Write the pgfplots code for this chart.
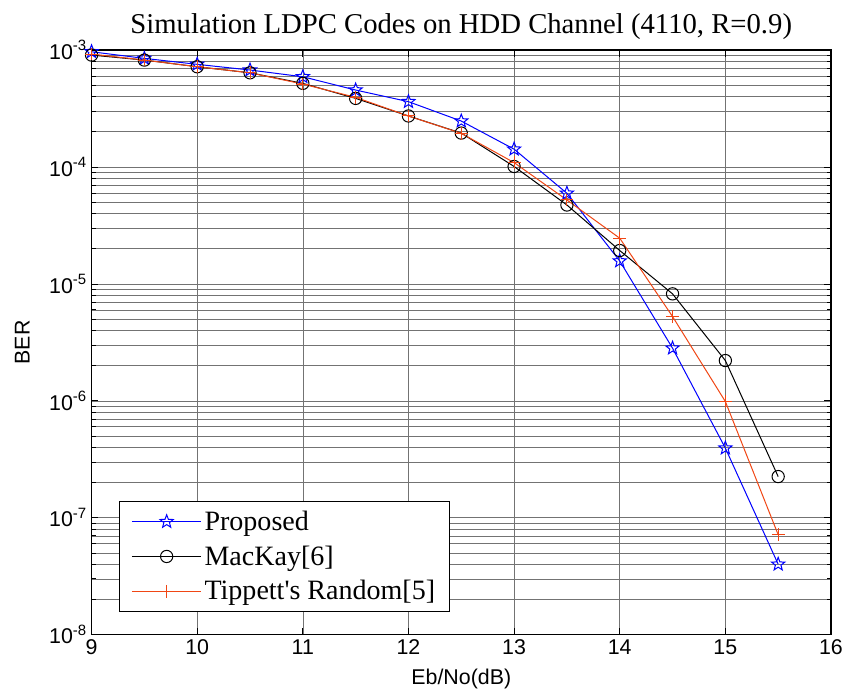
\documentclass[border=0pt]{standalone}
\usepackage{fontspec}
\setmainfont{Liberation Sans}
\newfontfamily\timesfont{Liberation Serif}
\usepackage{pgfplots}
\pgfplotsset{compat=1.18}
\definecolor{cProp}{RGB}{0,0,255}
\definecolor{cTip}{RGB}{240,70,20}

% open five-pointed star (MATLAB pentagram)
\pgfdeclareplotmark{pentagram}{%
  \pgfpathmoveto{\pgfpointpolar{90}{\pgfplotmarksize}}%
  \pgfpathlineto{\pgfpointpolar{126}{0.42\pgfplotmarksize}}%
  \pgfpathlineto{\pgfpointpolar{162}{\pgfplotmarksize}}%
  \pgfpathlineto{\pgfpointpolar{198}{0.42\pgfplotmarksize}}%
  \pgfpathlineto{\pgfpointpolar{234}{\pgfplotmarksize}}%
  \pgfpathlineto{\pgfpointpolar{270}{0.42\pgfplotmarksize}}%
  \pgfpathlineto{\pgfpointpolar{306}{\pgfplotmarksize}}%
  \pgfpathlineto{\pgfpointpolar{342}{0.42\pgfplotmarksize}}%
  \pgfpathlineto{\pgfpointpolar{18}{\pgfplotmarksize}}%
  \pgfpathlineto{\pgfpointpolar{54}{0.42\pgfplotmarksize}}%
  \pgfpathclose\pgfusepathqstroke}

\begin{document}
\begin{tikzpicture}
\begin{axis}[
    name=ax,
    scale only axis, width=554pt, height=438pt,
    xmin=9, xmax=16, ymode=log, log basis y=10, ymin=1e-8, ymax=1e-3,
    xtick={9,10,11,12,13,14,15,16},
    ytick={1e-8,1e-7,1e-6,1e-5,1e-4,1e-3},
    minor ytick={2e-8,3e-8,4e-8,5e-8,6e-8,7e-8,8e-8,9e-8,
                 2e-7,3e-7,4e-7,5e-7,6e-7,7e-7,8e-7,9e-7,
                 2e-6,3e-6,4e-6,5e-6,6e-6,7e-6,8e-6,9e-6,
                 2e-5,3e-5,4e-5,5e-5,6e-5,7e-5,8e-5,9e-5,
                 2e-4,3e-4,4e-4,5e-4,6e-4,7e-4,8e-4,9e-4},
    yticklabels={10\textsuperscript{-8},10\textsuperscript{-7},10\textsuperscript{-6},10\textsuperscript{-5},10\textsuperscript{-4},10\textsuperscript{-3}},
    /pgf/number format/assume math mode=true,
    tick align=inside,
    xtick pos=both, ytick pos=both,
    major tick length=5pt, minor tick length=3pt,
    xmajorgrids, ymajorgrids, yminorgrids,
    major grid style={black!55, line width=0.45pt},
    minor grid style={black!55, line width=0.45pt},
    axis line style={line width=1pt},
    tick style={black, line width=0.6pt},
    tick label style={font=\fontsize{16}{19}\selectfont},
    xlabel style={font=\fontsize{16}{19}\selectfont, yshift=-4pt},
    title={Simulation LDPC Codes on HDD Channel (4110, R=0.9)},
    title style={font=\timesfont\fontsize{21.5}{26}\selectfont, yshift=-2pt},
    xlabel={Eb/No(dB)},
    legend style={at={(0.037,0.039)}, anchor=south west, draw=black, line width=0.8pt,
      font=\timesfont\fontsize{21}{25}\selectfont, cells={anchor=west},
      row sep=6pt, inner xsep=9pt, inner ysep=5pt},
    legend image code/.code={%
      \draw[mark repeat=2, mark phase=2] plot coordinates {(0pt,0pt) (26pt,0pt) (52pt,0pt)};},
]
\addplot[cProp, line width=0.75pt, mark=pentagram, mark size=5.2pt, mark options={solid}] coordinates {
  (9,9.67e-4) (9.5,8.49e-4) (10,7.55e-4) (10.5,6.75e-4) (11,5.91e-4) (11.5,4.55e-4)
  (12,3.62e-4) (12.5,2.47e-4) (13,1.42e-4) (13.5,5.96e-5) (14,1.57e-5) (14.5,2.82e-6)
  (15,3.94e-7) (15.5,4.0e-8)};
\addlegendentry{Proposed}
\addplot[black, line width=0.75pt, mark=o, mark size=4.6pt] coordinates {
  (9,9.06e-4) (9.5,8.21e-4) (10,7.20e-4) (10.5,6.39e-4) (11,5.19e-4) (11.5,3.86e-4)
  (12,2.73e-4) (12.5,1.95e-4) (13,1.01e-4) (13.5,4.73e-5) (14,1.93e-5) (14.5,8.22e-6)
  (15,2.21e-6) (15.5,2.25e-7)};
\addlegendentry{MacKay[6]}
\addplot[cTip, line width=0.75pt, mark=+, mark size=4.8pt] coordinates {
  (9,9.24e-4) (9.5,8.21e-4) (10,7.20e-4) (10.5,6.39e-4) (11,5.12e-4) (11.5,3.94e-4)
  (12,2.73e-4) (12.5,1.94e-4) (13,1.09e-4) (13.5,5.22e-5) (14,2.46e-5) (14.5,5.26e-6)
  (15,9.86e-7) (15.5,7.16e-8)};
\addlegendentry{Tippett's Random[5]}
\end{axis}
\path (ax.south west) -- (ax.north west) coordinate[pos=0.5] (ml);
\node[rotate=90, font=\fontsize{16}{19}\selectfont] at ([xshift=-52pt]ml) {BER};
\pgfresetboundingbox
\path ([xshift=-68.6pt, yshift=-45.75pt]ax.south west) rectangle ([xshift=8.25pt, yshift=37.5pt]ax.north east);
\end{tikzpicture}
\end{document}
